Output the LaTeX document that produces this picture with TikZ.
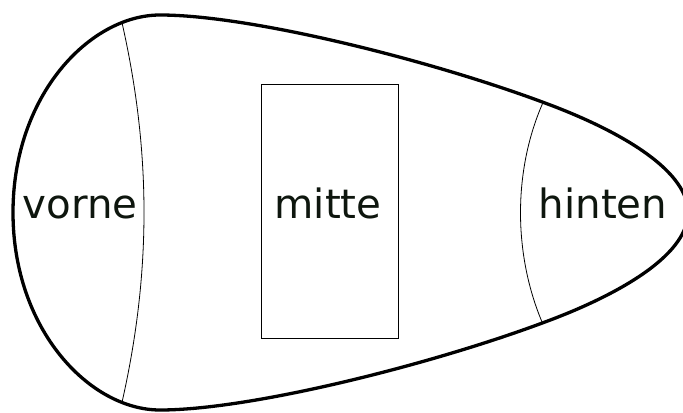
\documentclass[tikz,border=0pt]{standalone}
\usepackage{fontspec}
\setmainfont{DejaVu Sans}
\definecolor{textc}{RGB}{14,22,14}
\begin{document}
\begin{tikzpicture}[x=1bp,y=1bp,
  outline/.style={line width=3.3bp,line join=round},
  divider/.style={line width=0.8bp},
  label/.style={anchor=base,inner sep=0pt,text=textc,font=\fontsize{40.5}{48}\selectfont},
  box/.style={draw,line width=0.8bp,minimum width=137bp,minimum height=254bp,inner sep=0pt}]
\useasboundingbox (0,0) rectangle (683,412);
\def\outlinepath{(160,397) .. controls (250,397) and (430,352) .. (545,309)
  .. controls (610,285) and (688,245) .. (688,199.5)
  .. controls (688,154) and (610,114) .. (545,90)
  .. controls (430,47) and (250,2) .. (160,2)
  .. controls (90,2) and (13,82) .. (13,199.5)
  .. controls (13,317) and (90,397) .. (160,397) -- cycle}
\begin{scope}
  \clip \outlinepath;
  \draw[divider] (120,398) .. controls (152,262) and (152,137) .. (120,1);
  \draw[divider] (546,316) .. controls (512,245) and (512,154) .. (546,81);
\end{scope}
\node[box] (mbox) at (329.5,201) {};
\draw[outline] \outlinepath;
\node[label] (vorne) at (80,194) {vorne};
\node[label] (mitte) at (328,194) {mitte};
\node[label] (hinten) at (603,194) {hinten};
\end{tikzpicture}
\end{document}
